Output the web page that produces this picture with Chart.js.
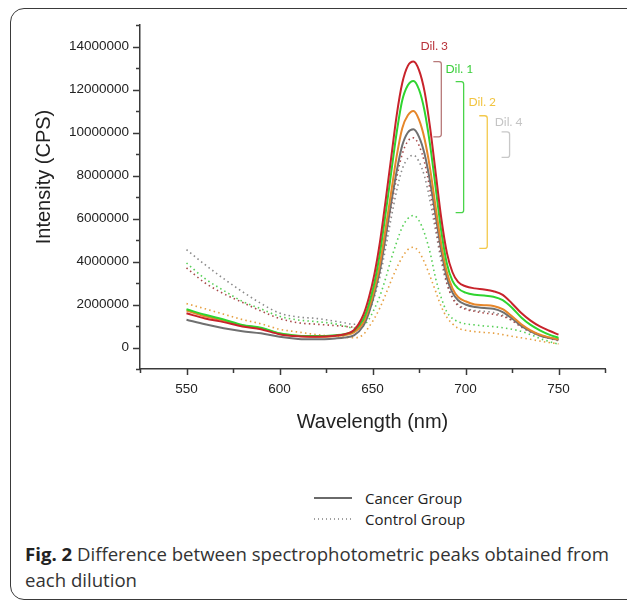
<!DOCTYPE html>
<html>
<head>
<meta charset="utf-8">
<script src="https://cdn.jsdelivr.net/npm/chart.js@4.4.0/dist/chart.umd.min.js"></script>
<style>
  html, body { margin: 0; padding: 0; background: #fff; overflow: hidden; }
  body { width: 627px; height: 601px; position: relative; }
  #frame { position: absolute; left: 10px; top: 8px; width: 660px; height: 592px;
    border: 1.5px solid #3a3a3a; border-radius: 14px; box-sizing: border-box; }
  #chart { position: absolute; left: 0; top: 0; }
  .leg-line { position: absolute; left: 314px; width: 38px; height: 1.5px; }
  .leg-solid { background: #6a6a6a; }
  .leg-dot { background: repeating-linear-gradient(to right, #a0a0a0 0 1.5px, transparent 1.5px 4px); }
  .leg-txt { position: absolute; left: 365px; font: 15px "Open Sans", sans-serif; color: #222; line-height: 20px; white-space: nowrap; }
  #caption { position: absolute; left: 25px; top: 541px; font: 18.6px "Open Sans", sans-serif;
    line-height: 25.5px; color: #333; white-space: nowrap; }
  #caption b { color: #222; }
</style>
</head>
<body>
<div id="frame"></div>
<canvas id="chart" width="627" height="460"></canvas>
<div class="leg-line leg-solid" style="top:497px"></div>
<div class="leg-txt" style="top:488px">Cancer Group</div>
<div class="leg-line leg-dot" style="top:518px"></div>
<div class="leg-txt" style="top:509px">Control Group</div>
<div id="caption"><b>Fig. 2</b> Difference between spectrophotometric peaks obtained from<br>each dilution</div>
<script>
(function () {
  // Wavelength (nm) and intensity in millions of CPS.
  var WAVELENGTH = [550, 560, 570, 580, 590, 600, 610, 620, 630, 635, 640, 645, 648, 651, 654, 657, 660, 663, 666, 669,
    672, 675, 678, 681, 684, 687, 690, 693, 696, 700, 705, 710, 715, 720, 725, 730, 735, 740, 745, 750];

  var CANCER_DIL3 = [1.59, 1.35, 1.18, 0.98, 0.85, 0.62, 0.52, 0.50, 0.55, 0.62, 0.80, 1.5, 2.3, 3.4, 4.9, 6.8, 8.8, 10.8, 12.3, 13.1,
    13.3, 12.9, 11.9, 10.2, 8.1, 6.0, 4.4, 3.5, 3.05, 2.85, 2.75, 2.70, 2.62, 2.45, 2.05, 1.6, 1.25, 0.98, 0.78, 0.6];
  var CANCER_DIL1 = [1.78, 1.52, 1.30, 1.05, 0.92, 0.66, 0.55, 0.53, 0.57, 0.62, 0.78, 1.3, 2.0, 3.0, 4.4, 6.2, 8.1, 10.0, 11.5, 12.2,
    12.4, 12.0, 11.0, 9.4, 7.4, 5.4, 3.9, 3.1, 2.75, 2.55, 2.45, 2.42, 2.36, 2.2, 1.85, 1.4, 1.05, 0.8, 0.6, 0.45];
  var CANCER_DIL2 = [1.72, 1.45, 1.25, 1.02, 0.90, 0.64, 0.53, 0.50, 0.54, 0.58, 0.70, 1.15, 1.8, 2.7, 3.9, 5.5, 7.2, 8.9, 10.2, 10.8,
    11.0, 10.6, 9.7, 8.3, 6.5, 4.8, 3.5, 2.75, 2.35, 2.15, 2.0, 1.97, 1.93, 1.78, 1.45, 1.08, 0.8, 0.6, 0.47, 0.38];
  var CANCER_DIL4 = [1.29, 1.08, 0.90, 0.76, 0.66, 0.50, 0.40, 0.38, 0.42, 0.46, 0.56, 1.0, 1.6, 2.5, 3.6, 5.1, 6.7, 8.2, 9.4, 10.0,
    10.15, 9.8, 9.0, 7.7, 6.1, 4.5, 3.25, 2.55, 2.2, 2.0, 1.88, 1.84, 1.8, 1.65, 1.35, 1.0, 0.75, 0.56, 0.44, 0.35];

  var CONTROL_DIL3 = [3.7, 3.0, 2.5, 2.1, 1.7, 1.35, 1.15, 1.08, 1.02, 0.98, 0.95, 1.2, 1.7, 2.5, 3.6, 5.0, 6.5, 7.9, 9.0, 9.6,
    9.75, 9.4, 8.6, 7.3, 5.7, 4.2, 3.0, 2.3, 1.95, 1.78, 1.68, 1.6, 1.55, 1.45, 1.25, 0.95, 0.72, 0.55, 0.42, 0.32];
  var CONTROL_DIL4 = [4.55, 3.85, 3.2, 2.6, 2.05, 1.6, 1.42, 1.35, 1.22, 1.15, 1.08, 1.25, 1.65, 2.35, 3.3, 4.6, 6.0, 7.3, 8.3, 8.8,
    8.94, 8.65, 7.95, 6.8, 5.4, 4.0, 2.95, 2.35, 2.0, 1.82, 1.72, 1.68, 1.63, 1.5, 1.28, 1.0, 0.78, 0.6, 0.47, 0.38];
  var CONTROL_DIL1 = [3.93, 3.2, 2.65, 2.15, 1.8, 1.45, 1.28, 1.2, 1.1, 1.0, 0.9, 1.0, 1.3, 1.8, 2.4, 3.2, 4.1, 4.9, 5.6, 6.0,
    6.14, 5.9, 5.3, 4.4, 3.2, 2.3, 1.65, 1.35, 1.2, 1.1, 1.05, 1.0, 0.97, 0.92, 0.85, 0.75, 0.6, 0.42, 0.28, 0.15];
  var CONTROL_DIL2 = [2.04, 1.8, 1.55, 1.3, 1.1, 0.85, 0.72, 0.6, 0.52, 0.48, 0.45, 0.6, 0.95, 1.35, 1.85, 2.45, 3.1, 3.7, 4.2, 4.55,
    4.66, 4.45, 3.95, 3.3, 2.6, 1.9, 1.4, 1.1, 0.9, 0.8, 0.74, 0.7, 0.67, 0.6, 0.52, 0.45, 0.38, 0.3, 0.23, 0.17];

  // Peak-difference brackets (cancer peak -> control peak), in nm / millions CPS.
  var DIL_LABELS = ["Dil. 3", "Dil. 1", "Dil. 2", "Dil. 4"];
  var BRACKET_NM = [687, 699, 711.7, 723.7];
  var BRACKET_TOP = [13.3, 12.37, 10.78, 10.03];
  var BRACKET_BOTTOM = [9.8, 6.27, 4.61, 8.84];
  var LABEL_NM = [683.2, 696.7, 709, 723.2];
  var LABEL_Y = [14.0, 12.93, 11.43, 10.47];

  var Y_MIN = -1, Y_MAX = 15, X_MIN = 525, X_MAX = 775;

  var AXIS = "#3a3a3a";
  var TXT = "#222";
  var DIL_COLORS = ["#b8323a", "#3ccf3c", "#f2c440", "#c4c4c4"];
  var BRACKET_COLORS = ["#b87a7a", "#49d449", "#f3c94c", "#c8c8c8"];

  function pts(vals) {
    return WAVELENGTH.map(function (w, i) { return { x: w, y: vals[i] * 1e6 }; });
  }

  function solid(label, vals, color) {
    return { label: label, data: pts(vals), borderColor: color, borderWidth: 2, pointRadius: 0,
      cubicInterpolationMode: "monotone", fill: false };
  }
  function dotted(label, vals, color) {
    return { label: label, data: pts(vals), borderColor: color, borderWidth: 1.6, borderDash: [1.5, 3.2],
      pointRadius: 0, cubicInterpolationMode: "monotone", fill: false };
  }

  var extras = {
    id: "extras",
    afterDraw: function (chart) {
      var ctx = chart.ctx, xs = chart.scales.x, ys = chart.scales.y;
      var left = chart.chartArea.left, bottom = chart.chartArea.bottom;
      ctx.save();
      // tick marks, long on labelled values
      ctx.strokeStyle = AXIS;
      ctx.lineWidth = 1.5;
      ctx.beginPath();
      ys.ticks.forEach(function (t) {
        var py = Math.round(ys.getPixelForValue(t.value)) + 0.5;
        var len = (t.value % 2e6 === 0) ? 7 : 4;
        ctx.moveTo(left - len, py); ctx.lineTo(left, py);
      });
      xs.ticks.forEach(function (t) {
        var px = Math.round(xs.getPixelForValue(t.value)) + 0.5;
        var len = (t.value % 50 === 0) ? 6 : 4;
        ctx.moveTo(px, bottom); ctx.lineTo(px, bottom + len);
      });
      ctx.stroke();

      // brackets and their labels
      ctx.lineWidth = 1.3;
      ctx.font = '12px Lato, "Open Sans", sans-serif';
      ctx.textAlign = "center";
      ctx.textBaseline = "middle";
      DIL_LABELS.forEach(function (lab, i) {
        var x = xs.getPixelForValue(BRACKET_NM[i]);
        var yt = ys.getPixelForValue(BRACKET_TOP[i] * 1e6);
        var yb = ys.getPixelForValue(BRACKET_BOTTOM[i] * 1e6);
        ctx.strokeStyle = BRACKET_COLORS[i];
        ctx.beginPath();
        ctx.moveTo(x - 8, yt);
        ctx.arcTo(x, yt, x, yb, 2.5);
        ctx.arcTo(x, yb, x - 8, yb, 2.5);
        ctx.lineTo(x - 8, yb);
        ctx.stroke();
        ctx.fillStyle = DIL_COLORS[i];
        ctx.fillText(lab, xs.getPixelForValue(LABEL_NM[i]), ys.getPixelForValue(LABEL_Y[i] * 1e6));
      });

      // y axis title
      ctx.translate(44, 177);
      ctx.rotate(-Math.PI / 2);
      ctx.font = '20px "Liberation Sans", Arial, sans-serif';
      ctx.fillStyle = TXT;
      ctx.fillText("Intensity (CPS)", 0, 0);
      ctx.restore();
    }
  };

  new Chart(document.getElementById("chart"), {
    type: "line",
    data: {
      datasets: [
        solid("Dil. 3 cancer", CANCER_DIL3, "#c8232b"),
        solid("Dil. 1 cancer", CANCER_DIL1, "#2fd42f"),
        solid("Dil. 2 cancer", CANCER_DIL2, "#e6862a"),
        solid("Dil. 4 cancer", CANCER_DIL4, "#707070"),
        dotted("Dil. 3 control", CONTROL_DIL3, "#a84a4a"),
        dotted("Dil. 4 control", CONTROL_DIL4, "#8a8a8a"),
        dotted("Dil. 1 control", CONTROL_DIL1, "#58d058"),
        dotted("Dil. 2 control", CONTROL_DIL2, "#e6a042")
      ]
    },
    options: {
      responsive: false,
      animation: false,
      devicePixelRatio: 1,
      layout: { padding: { top: 25, right: 22, bottom: 0, left: 0 } },
      plugins: { legend: { display: false }, tooltip: { enabled: false } },
      scales: {
        x: {
          type: "linear", min: X_MIN, max: X_MAX,
          afterFit: function (s) { s.height = 91; },
          border: { display: true, color: AXIS, width: 1.5 },
          grid: { display: true, drawOnChartArea: false, drawTicks: false },
          ticks: {
            stepSize: 25, autoSkip: false, maxRotation: 0, padding: 12, color: TXT,
            font: { family: '"Liberation Sans", Arial, sans-serif', size: 13.5 },
            callback: function (v) { return (v % 50 === 0 && v >= 550 && v <= 750) ? String(v) : ""; }
          },
          title: {
            display: true, text: "Wavelength (nm)", color: TXT,
            font: { family: '"Liberation Sans", Arial, sans-serif', size: 20 },
            padding: { top: 0, bottom: 26 }
          }
        },
        y: {
          min: Y_MIN * 1e6, max: Y_MAX * 1e6,
          afterFit: function (s) { s.width = 140; },
          border: { display: true, color: AXIS, width: 1.5 },
          grid: { display: true, drawOnChartArea: false, drawTicks: false },
          ticks: {
            stepSize: 1e6, autoSkip: false, padding: 11, color: TXT,
            font: { family: '"Liberation Sans", Arial, sans-serif', size: 13.5 },
            callback: function (v) { return (v >= 0 && v % 2e6 === 0) ? String(v) : ""; }
          }
        }
      }
    },
    plugins: [extras]
  });
})();
</script>
</body>
</html>
